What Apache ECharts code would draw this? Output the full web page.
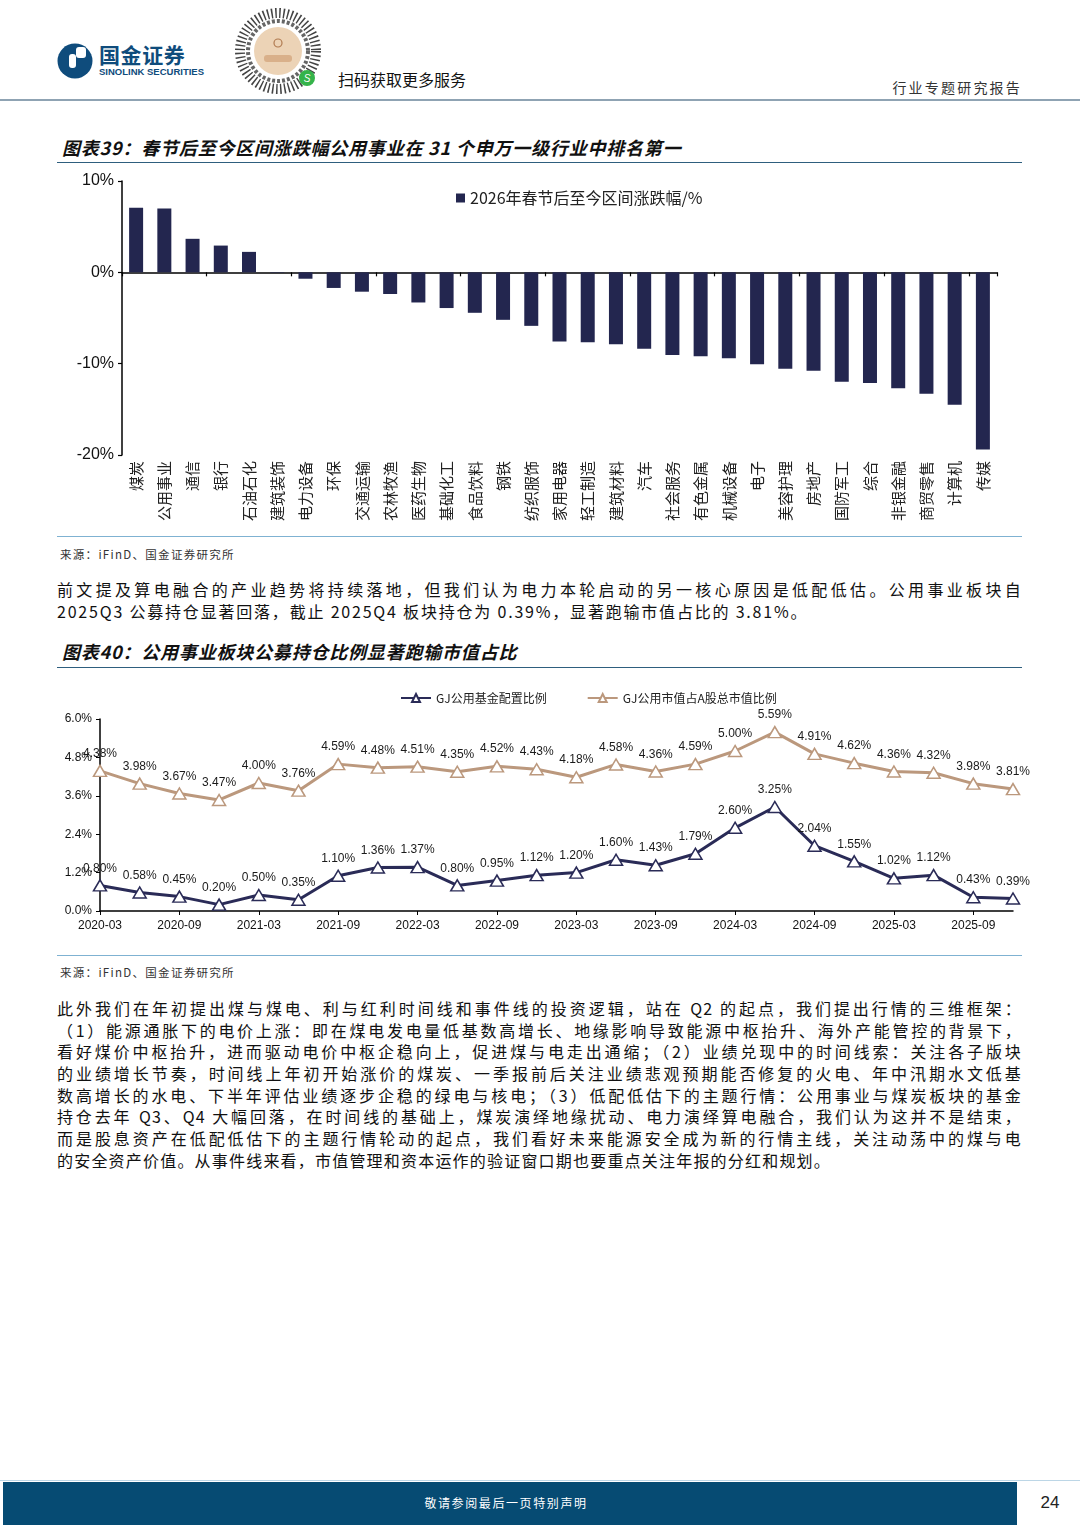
<!DOCTYPE html>
<html><head><meta charset="utf-8">
<script src="https://cdn.jsdelivr.net/npm/echarts@6.0.0/dist/echarts.min.js"></script>
<style>
body{margin:0;width:1080px;height:1527px;position:relative;background:#fff;font-family:"Noto Sans CJK SC","Liberation Sans",sans-serif;color:#1a1a1a;overflow:hidden}
.abs{position:absolute}
.hline{position:absolute;height:0}
.title{position:absolute;left:62px;font-size:18px;font-weight:bold;font-style:italic;letter-spacing:0.8px;color:#111;white-space:nowrap;line-height:22px}
.src{position:absolute;left:60px;font-size:11.5px;letter-spacing:1.3px;color:#333;white-space:nowrap;line-height:14px}
.para{position:absolute;left:57px;width:965px;font-size:16px;letter-spacing:1.2px;color:#111;line-height:21.7px}
.para div{text-align:justify;text-align-last:justify;height:21.7px;overflow:visible}
.para div.last{text-align-last:left}
</style></head>
<body>
<!-- header -->
<svg class="abs" style="left:56px;top:41px" width="40" height="40" viewBox="0 0 40 40">
  <circle cx="19" cy="20" r="17.5" fill="#0f4c7c"/>
  <rect x="20" y="6" width="10" height="11" rx="3" fill="#fff"/>
  <rect x="13" y="13" width="7" height="14" rx="3" fill="#fff"/>
</svg>
<div class="abs" style="left:99px;top:42px;font-size:21px;font-weight:bold;color:#0f4c7c;letter-spacing:0.6px;line-height:25px">国金证券</div>
<div class="abs" style="left:99px;top:66px;font-size:9.5px;font-weight:bold;color:#0f4c7c;font-family:'Liberation Sans';line-height:11px">SINOLINK SECURITIES</div>
<svg class="abs" style="left:234px;top:7px" width="90" height="90" viewBox="0 0 90 90">
  <circle cx="44" cy="44" r="38" fill="none" stroke="#444" stroke-width="10" stroke-dasharray="1.5 2.5"/>
  <circle cx="44" cy="44" r="30" fill="none" stroke="#666" stroke-width="4" stroke-dasharray="3 2"/>
  <circle cx="44" cy="44" r="24" fill="#ecd3b6"/>
  <circle cx="44" cy="36" r="4" fill="none" stroke="#b07a50" stroke-width="1.2"/>
  <rect x="30" y="48" width="28" height="7" rx="3" fill="#d9b08a"/>
  <circle cx="73" cy="71" r="8" fill="#35b34a"/>
  <text x="73" y="75" font-size="10" fill="#fff" text-anchor="middle" font-family="Liberation Sans" font-style="italic">S</text>
</svg>
<div class="abs" style="left:338px;top:68px;font-size:16px;color:#111;line-height:22px">扫码获取更多服务</div>
<div class="abs" style="right:58px;top:77px;font-size:14px;letter-spacing:2.2px;color:#333;line-height:20px">行业专题研究报告</div>
<div class="hline" style="left:0;top:99px;width:1080px;border-top:2px solid #8fa3b3"></div>

<!-- chart 39 -->
<div class="title" style="top:136px">图表39：春节后至今区间涨跌幅公用事业在 31 个申万一级行业中排名第一</div>
<div class="hline" style="left:57px;top:162px;width:965px;border-top:1.5px solid #2e5e7e"></div>
<div id="c1" class="abs" style="left:57px;top:170px;width:970px;height:365px"></div>
<div class="hline" style="left:57px;top:536px;width:965px;border-top:1.5px solid #7fb2d2"></div>
<div class="src" style="top:547px">来源：iFinD、国金证券研究所</div>

<div class="para" style="top:579px">
<div>前文提及算电融合的产业趋势将持续落地，但我们认为电力本轮启动的另一核心原因是低配低估。公用事业板块自</div>
<div class="last" style="letter-spacing:1.8px">2025Q3 公募持仓显著回落，截止 2025Q4 板块持仓为 0.39%，显著跑输市值占比的 3.81%。</div>
</div>

<!-- chart 40 -->
<div class="title" style="top:640px">图表40：公用事业板块公募持仓比例显著跑输市值占比</div>
<div class="hline" style="left:57px;top:667px;width:965px;border-top:1.5px solid #2e5e7e"></div>
<div id="c2" class="abs" style="left:57px;top:680px;width:1000px;height:270px"></div>
<div class="hline" style="left:57px;top:955px;width:965px;border-top:1.5px solid #7fb2d2"></div>
<div class="src" style="top:965px">来源：iFinD、国金证券研究所</div>

<div class="para" style="top:998px">
<div>此外我们在年初提出煤与煤电、利与红利时间线和事件线的投资逻辑，站在 Q2 的起点，我们提出行情的三维框架：</div>
<div>（1）能源通胀下的电价上涨：即在煤电发电量低基数高增长、地缘影响导致能源中枢抬升、海外产能管控的背景下，</div>
<div>看好煤价中枢抬升，进而驱动电价中枢企稳向上，促进煤与电走出通缩；（2）业绩兑现中的时间线索：关注各子版块</div>
<div>的业绩增长节奏，时间线上年初开始涨价的煤炭、一季报前后关注业绩悲观预期能否修复的火电、年中汛期水文低基</div>
<div>数高增长的水电、下半年评估业绩逐步企稳的绿电与核电；（3）低配低估下的主题行情：公用事业与煤炭板块的基金</div>
<div>持仓去年 Q3、Q4 大幅回落，在时间线的基础上，煤炭演绎地缘扰动、电力演绎算电融合，我们认为这并不是结束，</div>
<div>而是股息资产在低配低估下的主题行情轮动的起点，我们看好未来能源安全成为新的行情主线，关注动荡中的煤与电</div>
<div class="last">的安全资产价值。从事件线来看，市值管理和资本运作的验证窗口期也要重点关注年报的分红和规划。</div>
</div>

<!-- footer -->
<div class="hline" style="left:0;top:1480px;width:1080px;border-top:1px solid #bcd6e6"></div>
<div class="abs" style="left:3px;top:1482px;width:1014px;height:43px;background:#064b73"></div>
<div class="abs" style="left:3px;top:1493px;width:1006px;text-align:center;font-size:12px;letter-spacing:1.6px;color:#fff;line-height:20px">敬请参阅最后一页特别声明</div>
<div class="abs" style="left:1030px;top:1491px;width:40px;text-align:center;font-size:17px;color:#222;font-family:'Liberation Sans';line-height:24px">24</div>

<script>
// ---------- Chart 39 data ----------
const industries = ['煤炭','公用事业','通信','银行','石油石化','建筑装饰','电力设备','环保','交通运输','农林牧渔','医药生物','基础化工','食品饮料','钢铁','纺织服饰','家用电器','轻工制造','建筑材料','汽车','社会服务','有色金属','机械设备','电子','美容护理','房地产','国防军工','综合','非银金融','商贸零售','计算机','传媒'];
const changePct = [7.08,7.00,3.67,2.93,2.24,-0.05,-0.70,-1.71,-2.12,-2.37,-3.30,-3.91,-4.43,-5.20,-5.86,-7.58,-7.65,-7.87,-8.38,-9.04,-9.19,-9.41,-10.07,-10.55,-10.77,-11.98,-12.12,-12.70,-13.30,-14.50,-19.40];
const barTickValues = [-20,-10,0,10];
const barTickLabels = ['-20%','-10%','0%','10%'];
const barSeriesName = '2026年春节后至今区间涨跌幅/%';

// ---------- Chart 40 data ----------
const quarters = ['2020-03','2020-06','2020-09','2020-12','2021-03','2021-06','2021-09','2021-12','2022-03','2022-06','2022-09','2022-12','2023-03','2023-06','2023-09','2023-12','2024-03','2024-06','2024-09','2024-12','2025-03','2025-06','2025-09','2025-12'];
const fundAlloc = [0.80,0.58,0.45,0.20,0.50,0.35,1.10,1.36,1.37,0.80,0.95,1.12,1.20,1.60,1.43,1.79,2.60,3.25,2.04,1.55,1.02,1.12,0.43,0.39];
const mktShare = [4.38,3.98,3.67,3.47,4.00,3.76,4.59,4.48,4.51,4.35,4.52,4.43,4.18,4.58,4.36,4.59,5.00,5.59,4.91,4.62,4.36,4.32,3.98,3.81];
const lineTickValues = [0,1.2,2.4,3.6,4.8,6.0];
const lineTickLabels = ['0.0%','1.2%','2.4%','3.6%','4.8%','6.0%'];
const lineNames = ['GJ公用基金配置比例','GJ公用市值占A股总市值比例'];

const CJK = 'Noto Sans CJK SC';
const LAT = 'Liberation Sans';

const c1 = echarts.init(document.getElementById('c1'), null, {renderer:'canvas'});
c1.setOption({
  animation:false,
  grid:{left:65, top:11, width:875, height:274, outerBoundsMode:'none', containLabel:false},
  legend:{data:[barSeriesName], left:394, top:15, icon:'rect', itemWidth:9, itemHeight:9, itemGap:0,
    textStyle:{fontSize:16, color:'#222', fontFamily:CJK}},
  xAxis:[
    {type:'category', data:industries, axisLine:{onZero:true, lineStyle:{color:'#000', width:1.5}},
     axisTick:{show:true, length:4, lineStyle:{color:'#000', width:1.2}}, axisLabel:{show:false}, splitLine:{show:false}},
    {type:'category', data:industries, position:'bottom', axisLine:{show:false, onZero:false},
     axisTick:{show:false}, splitLine:{show:false},
     axisLabel:{rotate:90, interval:0, fontSize:15, color:'#222', margin:6, fontFamily:CJK}}
  ],
  yAxis:{type:'value', min:-20, max:10, interval:10,
    axisLine:{show:true, lineStyle:{color:'#000', width:1.5}},
    axisTick:{show:true, length:4, lineStyle:{color:'#000', width:1.2}},
    splitLine:{show:false},
    axisLabel:{formatter:v=>barTickLabels[barTickValues.indexOf(v)], fontSize:16, color:'#111', margin:8, fontFamily:LAT}},
  series:[{type:'bar', name:barSeriesName, data:changePct, xAxisIndex:0, barWidth:14,
    itemStyle:{color:'#23264f'}}]
});

const navy = '#2a2b57', tan = '#bb987d';
const c2 = echarts.init(document.getElementById('c2'), null, {renderer:'canvas'});
const mkLine = (name, data, color) => ({
  type:'line', name, data, symbol:'triangle', symbolSize:[13,11], showAllSymbol:true,
  lineStyle:{color, width:3},
  itemStyle:{color:'#fff', borderColor:color, borderWidth:1.5},
  label:{show:true, position:'top', distance:5, formatter:p=>p.value.toFixed(2)+'%',
    fontSize:12, color:'#1a1a1a', fontFamily:LAT}
});
c2.setOption({
  animation:false,
  grid:{left:43, top:39, width:913, height:192, outerBoundsMode:'none', containLabel:false},
  legend:{data:lineNames, left:338, top:7, itemWidth:30, itemHeight:10, itemGap:40,
    textStyle:{fontSize:12, color:'#222', fontFamily:CJK}},
  xAxis:{type:'category', boundaryGap:false, data:quarters,
    axisLine:{lineStyle:{color:'#000', width:1.5}},
    axisTick:{show:true, interval:1, length:4, lineStyle:{color:'#000'}},
    axisLabel:{interval:1, fontSize:12, color:'#111', margin:9, fontFamily:LAT},
    splitLine:{show:false}},
  yAxis:{type:'value', min:0, max:6, interval:1.2,
    axisLine:{show:true, lineStyle:{color:'#000', width:1.5}},
    axisTick:{show:true, length:4, lineStyle:{color:'#000'}},
    splitLine:{show:false},
    axisLabel:{formatter:v=>{const i=lineTickValues.findIndex(t=>Math.abs(t-v)<1e-6);return i>=0?lineTickLabels[i]:'';},
      fontSize:12, color:'#111', margin:8, fontFamily:LAT}},
  series:[mkLine(lineNames[0], fundAlloc, navy), mkLine(lineNames[1], mktShare, tan)]
});
</script>
</body></html>
